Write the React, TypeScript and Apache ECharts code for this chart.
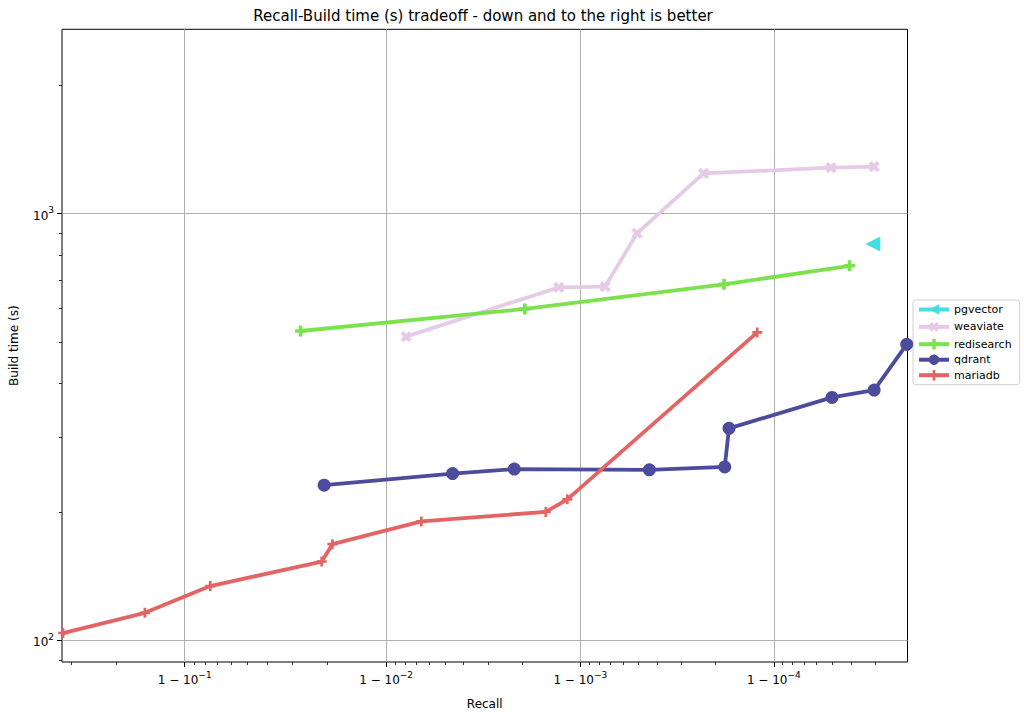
import React, { useEffect, useRef } from "react";
import * as echarts from "echarts";

// ---- data (recall, build time in seconds) ----
const pgvectorRecall = [0.99996922];
const pgvectorBuild = [849];

const weaviateRecall = [0.9921, 0.998708, 0.999256, 0.999491, 0.9997691, 0.99994936, 0.9999697];
const weaviateBuild = [515, 672, 675, 900, 1243, 1282, 1289];

const redisearchRecall = [0.97278, 0.998067, 0.9998191, 0.9999594];
const redisearchBuild = [531, 598, 683, 755];

const qdrantRecall = [0.9793, 0.99544, 0.997808, 0.99956, 0.9998206, 0.9998295, 0.99994996, 0.9999697, 0.99997944];
const qdrantBuild = [231, 246, 252, 251, 255, 314, 371, 386, 494];

const mariadbRecall = [0.679, 0.8485, 0.9242, 0.97871, 0.98121, 0.9934, 0.998492, 0.998833, 0.9998782];
const mariadbBuild = [104, 116, 134, 153, 168, 190, 200, 214, 527];

// ---- axis ticks / limits ----
const recallMin = 0.6762;
const recallMax = 0.99997963;
const buildMin = 88.95;
const buildMax = 2706;
const recallMajorTicks = [0.9, 0.99, 0.999, 0.9999];
const recallMinorTicks = [
  0.7, 0.8,
  0.91, 0.92, 0.93, 0.94, 0.95, 0.96, 0.97, 0.98,
  0.991, 0.992, 0.993, 0.994, 0.995, 0.996, 0.997, 0.998,
  0.9991, 0.9992, 0.9993, 0.9994, 0.9995, 0.9996, 0.9997, 0.9998,
  0.99991, 0.99992, 0.99993, 0.99994, 0.99995, 0.99996, 0.99997,
];
const buildMajorTicks = [100, 1000];
const buildMinorTicks = [90, 200, 300, 400, 500, 600, 700, 800, 900, 2000];

const seriesNames = ["pgvector", "weaviate", "redisearch", "qdrant", "mariadb"];
const colors = ["#45dfe0", "#e6cbe6", "#7be24d", "#4c4b9c", "#e46464"];

const logit = (p: number) => Math.log10(p / (1 - p));
const lg = (v: number) => Math.log10(v);

const plusFilled = "path://M-1,-3L1,-3L1,-1L3,-1L3,1L1,1L1,3L-1,3L-1,1L-3,1L-3,-1L-1,-1Z";
const plusThin = "path://M-0.8,-3L0.8,-3L0.8,-0.8L3,-0.8L3,0.8L0.8,0.8L0.8,3L-0.8,3L-0.8,0.8L-3,0.8L-3,-0.8L-0.8,-0.8Z";

const pts = (r: number[], b: number[]) => r.map((x, i) => [logit(x), lg(b[i])]);

export default function App() {
  const ref = useRef<HTMLDivElement>(null);
  useEffect(() => {
    if (!ref.current) return;
    const chart = echarts.init(ref.current, null, { renderer: "svg" });
    const font = "DejaVu Sans";
    const rich = {
      a: { fontSize: 12, fontFamily: font, color: "#000", lineHeight: 16, verticalAlign: "bottom" },
      s: { fontSize: 9, fontFamily: font, color: "#000", lineHeight: 16, verticalAlign: "top" },
    };
    const data = [
      pts(pgvectorRecall, pgvectorBuild),
      pts(weaviateRecall, weaviateBuild),
      pts(redisearchRecall, redisearchBuild),
      pts(qdrantRecall, qdrantBuild),
      pts(mariadbRecall, mariadbBuild),
    ];
    const symbols: any[] = ["triangle", plusFilled, plusFilled, "circle", plusThin];
    const sizes = [15, 12, 11, 13, 10];
    const rotates = [90, 45, 0, 0, 0];
    const xMin = logit(recallMin);
    const xMax = logit(recallMax);
    const yMin = lg(buildMin);
    const yMax = lg(buildMax);
    chart.setOption({
      animation: false,
      color: colors,
      grid: {
        left: 58.5,
        right: 116.5,
        top: 29.3,
        bottom: 53,
        show: true,
        borderColor: "#000",
        borderWidth: 1,
        backgroundColor: "#fff",
      },
      graphic: [
        {
          type: "text",
          x: 483,
          y: 16,
          style: {
            text: "Recall-Build time (s) tradeoff - down and to the right is better",
            fontFamily: font,
            fontSize: 15,
            fill: "#000",
            align: "center",
            verticalAlign: "middle",
          },
        },
      ],
      legend: {
        orient: "vertical",
        left: 913,
        top: 300,
        data: seriesNames,
        itemWidth: 30,
        itemHeight: 13,
        itemGap: 4.5,
        padding: [4, 8, 4, 4],
        borderColor: "#d0d0d0",
        borderWidth: 1,
        borderRadius: 3,
        backgroundColor: "#fff",
        lineStyle: { width: 4 },
        textStyle: { fontFamily: font, fontSize: 11, color: "#000" },
      },
      xAxis: [
        {
          type: "value",
          min: xMin,
          max: xMax,
          name: "Recall",
          nameLocation: "middle",
          nameGap: 36,
          nameTextStyle: { fontFamily: font, fontSize: 12, color: "#000" },
          axisLine: { show: false },
          axisTick: {
            show: true,
            length: 5,
            lineStyle: { color: "#000", width: 1 },
            customValues: recallMajorTicks.map(logit),
          },
          axisLabel: {
            customValues: recallMajorTicks.map(logit),
            margin: 8,
            formatter: (v: number) => `{a|1 − 10}{s|−${Math.round(v)}}`,
            rich,
          },
          splitLine: { show: true, lineStyle: { color: "#b0b0b0", width: 1 } },
        },
        {
          type: "value",
          min: xMin,
          max: xMax,
          position: "bottom",
          axisLine: { show: false },
          axisTick: {
            show: true,
            length: 3,
            lineStyle: { color: "#000", width: 0.8 },
            customValues: recallMinorTicks.map(logit),
          },
          axisLabel: { show: false },
          splitLine: { show: false },
        },
      ],
      yAxis: [
        {
          type: "value",
          min: yMin,
          max: yMax,
          name: "Build time (s)",
          nameLocation: "middle",
          nameGap: 42,
          nameTextStyle: { fontFamily: font, fontSize: 12, color: "#000" },
          axisLine: { show: false },
          axisTick: {
            show: true,
            length: 5,
            lineStyle: { color: "#000", width: 1 },
            customValues: buildMajorTicks.map(lg),
          },
          axisLabel: {
            customValues: buildMajorTicks.map(lg),
            margin: 8,
            formatter: (v: number) => `{a|10}{s|${Math.round(v)}}`,
            rich,
          },
          splitLine: { show: true, lineStyle: { color: "#b0b0b0", width: 1 } },
        },
        {
          type: "value",
          min: yMin,
          max: yMax,
          position: "left",
          axisLine: { show: false },
          axisTick: {
            show: true,
            length: 3,
            lineStyle: { color: "#000", width: 0.8 },
            customValues: buildMinorTicks.map(lg),
          },
          axisLabel: { show: false },
          splitLine: { show: false },
        },
      ],
      series: seriesNames.map((name, i) => ({
        name,
        type: "line",
        xAxisIndex: 0,
        yAxisIndex: 0,
        data: data[i],
        symbol: symbols[i],
        symbolSize: sizes[i],
        symbolRotate: rotates[i],
        showSymbol: true,
        lineStyle: { width: 3.8, color: colors[i], join: "round" },
        itemStyle: { color: colors[i], borderWidth: 0 },
        z: 2 + i,
      })),
    });
    return () => chart.dispose();
  }, []);
  return (
    <div
      ref={ref}
      style={{ position: "fixed", left: 0, top: 0, width: 1024, height: 715, background: "#fff" }}
    />
  );
}
